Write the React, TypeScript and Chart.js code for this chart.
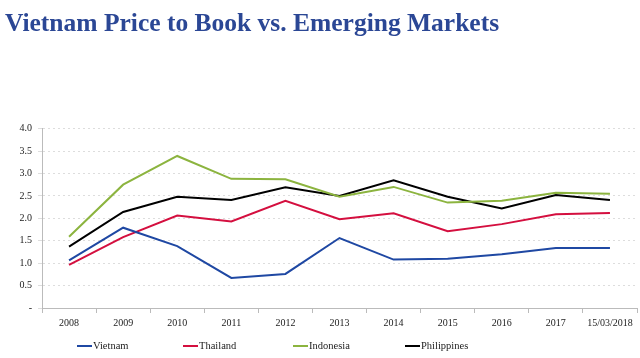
import React, { useEffect, useRef } from "react";
import { Chart, registerables } from "chart.js";

Chart.register(...registerables);

const categories = ["2008", "2009", "2010", "2011", "2012", "2013", "2014", "2015", "2016", "2017", "15/03/2018"];
const vietnam = [1.06, 1.79, 1.38, 0.67, 0.76, 1.56, 1.08, 1.10, 1.20, 1.34, 1.34];
const thailand = [0.96, 1.58, 2.06, 1.93, 2.39, 1.98, 2.11, 1.71, 1.87, 2.09, 2.12];
const indonesia = [1.59, 2.75, 3.39, 2.88, 2.87, 2.48, 2.70, 2.35, 2.39, 2.57, 2.55];
const philippines = [1.37, 2.14, 2.48, 2.41, 2.69, 2.50, 2.85, 2.48, 2.22, 2.52, 2.41];
const titleText = "Vietnam Price to Book vs. Emerging Markets";

const SERIF = "'Liberation Serif', 'DejaVu Serif', serif";
const LEGEND_X = [77, 183, 293, 405];
const LEGEND_Y = 346;

const bottomLegend = {
  id: "bottomLegend",
  afterDraw(chart: any) {
    const ctx = chart.ctx;
    ctx.save();
    ctx.font = `10.5px ${SERIF}`;
    ctx.textBaseline = "middle";
    ctx.textAlign = "left";
    chart.data.datasets.forEach((d: any, i: number) => {
      const x = LEGEND_X[i];
      ctx.strokeStyle = d.borderColor;
      ctx.lineWidth = 2;
      ctx.beginPath();
      ctx.moveTo(x, LEGEND_Y);
      ctx.lineTo(x + 15, LEGEND_Y);
      ctx.stroke();
      ctx.fillStyle = "#222";
      ctx.fillText(d.label, x + 16, LEGEND_Y);
    });
    ctx.restore();
  },
};

export default function App() {
  const ref = useRef<HTMLCanvasElement | null>(null);
  useEffect(() => {
    document.body.style.margin = "0";
    const ds = (label: string, data: number[], color: string) => ({
      label,
      data,
      borderColor: color,
      backgroundColor: color,
      borderWidth: 2,
      pointRadius: 0,
      tension: 0,
    });
    const chart = new Chart(ref.current as HTMLCanvasElement, {
      type: "line",
      data: {
        labels: categories,
        datasets: [
          ds("Vietnam", vietnam, "#1f48a3"),
          ds("Thailand", thailand, "#d40f3f"),
          ds("Indonesia", indonesia, "#8cb43f"),
          ds("Philippines", philippines, "#000000"),
        ],
      },
      plugins: [bottomLegend],
      options: {
        animation: false,
        responsive: false,
        maintainAspectRatio: false,
        layout: { padding: { left: 5, right: 3, top: 0, bottom: 25 } },
        plugins: {
          title: {
            display: true,
            text: titleText,
            align: "start",
            color: "#2b4795",
            font: { family: SERIF, size: 25.5, weight: "bold", lineHeight: 1.2 },
            padding: { top: 9, bottom: 89 },
          },
          legend: { display: false },
          tooltip: { enabled: false },
        },
        scales: {
          x: {
            offset: true,
            grid: { display: true, drawOnChartArea: false, tickLength: 5, color: "#bbbbbb", offset: true },
            border: { color: "#bbbbbb" },
            ticks: { color: "#222", font: { family: SERIF, size: 10 }, maxRotation: 0, autoSkip: false, padding: 4 },
          },
          y: {
            min: 0,
            max: 4,
            afterFit: (s: any) => { s.width = 37; },
            grid: { color: "#dddddd", tickLength: 4 },
            border: { color: "#bbbbbb", dash: [2, 3] },
            ticks: {
              stepSize: 0.5,
              color: "#222",
              font: { family: SERIF, size: 10 },
              padding: 6,
              callback: (v: any) => (Number(v) === 0 ? "-" : Number(v).toFixed(1)),
            },
          },
        },
      },
    });
    return () => chart.destroy();
  }, []);
  return (
    <div style={{ width: 640, height: 358 }}>
      <canvas ref={ref} width={640} height={358} />
    </div>
  );
}
